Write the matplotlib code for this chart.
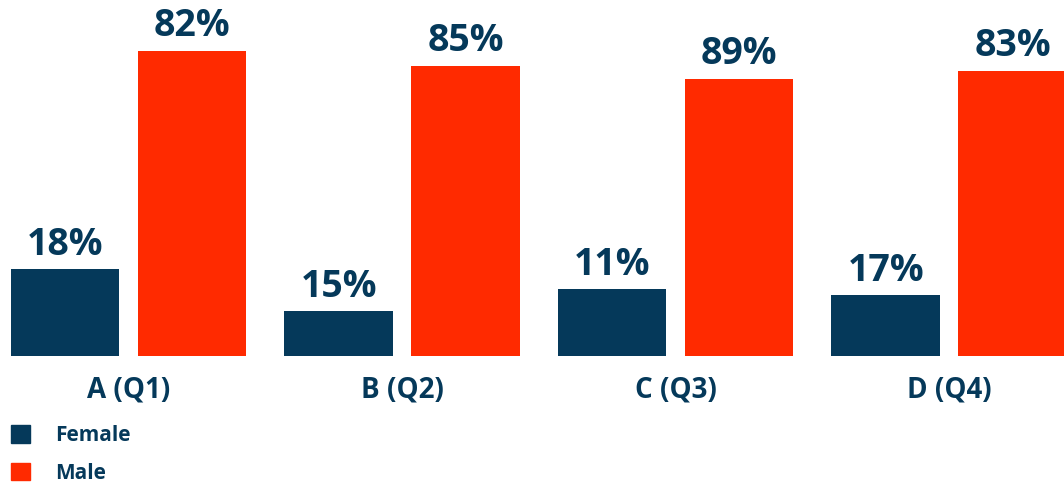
import matplotlib.pyplot as plt
import numpy as np
from matplotlib.patches import Patch

plt.rcParams["font.family"] = ["Open Sans", "DejaVu Sans"]

# ---- data ----
groups = ["A (Q1)", "B (Q2)", "C (Q3)", "D (Q4)"]
female_labels = ["18%", "15%", "11%", "17%"]
male_labels = ["82%", "85%", "89%", "83%"]
# bar heights as drawn in the source picture (not proportional to the labels)
female_height = [24.4, 12.6, 18.8, 17.1]
male_height = [85.7, 81.5, 77.9, 80.1]

navy = "#05395a"
red = "#ff2a00"

fig = plt.figure(figsize=(10.64, 4.82), dpi=100)
ax = fig.add_axes([0, 126 / 482, 1, 356 / 482])

x = np.arange(len(groups))
w = 0.397
off = 0.232

b1 = ax.bar(x - off, female_height, w, color=navy)
b2 = ax.bar(x + off, male_height, w, color=red)

for bars, labs in [(b1, female_labels), (b2, male_labels)]:
    for r, t in zip(bars, labs):
        ax.annotate(t, (r.get_x() + r.get_width() / 2, r.get_height()),
                    xytext=(0, 4), textcoords="offset points",
                    ha="center", va="bottom", fontsize=27, fontweight="bold",
                    color=navy)

ax.set_xlim(-0.47, 3.42)
ax.set_ylim(0, 100)
ax.set_xticks(x)
ax.set_xticklabels(groups, fontsize=20, fontweight="bold", color=navy)
ax.tick_params(axis="x", length=0, pad=14)
ax.set_yticks([])
for s in ax.spines.values():
    s.set_visible(False)

handles = [Patch(color=navy, label="Female"), Patch(color=red, label="Male")]
leg = fig.legend(handles=handles, loc="upper left",
                 bbox_to_anchor=(5 / 1064, 1 - 419 / 482),
                 frameon=False, handlelength=0.9, handleheight=0.9,
                 handletextpad=1.2, labelspacing=0.8, borderaxespad=0, borderpad=0.3,
                 prop={"weight": "bold", "size": 15})
for t in leg.get_texts():
    t.set_color(navy)

fig.savefig("out.png", dpi=100)
plt.close(fig)
